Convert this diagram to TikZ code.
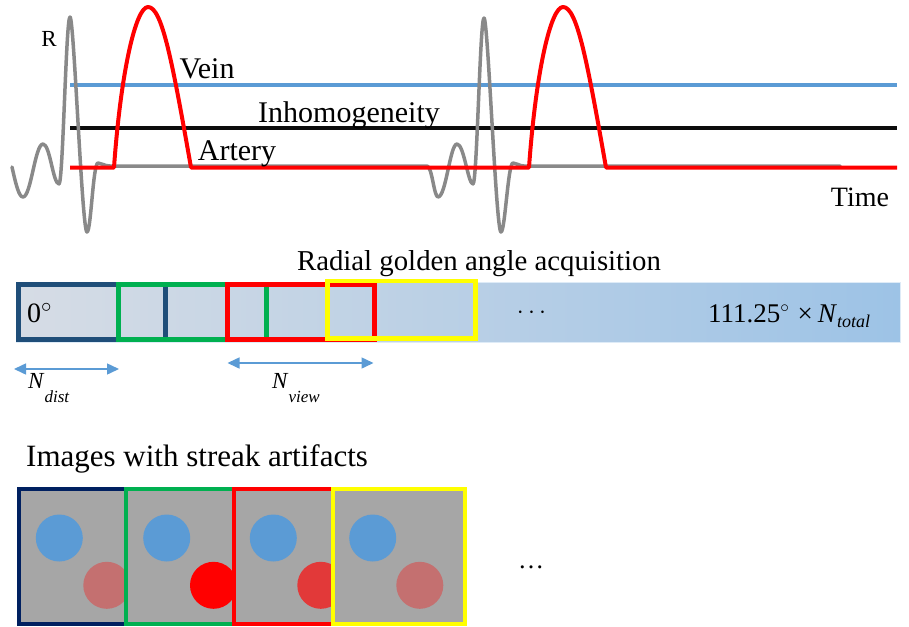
\documentclass[tikz,border=0pt]{standalone}
\usepackage{fontspec}
\setmainfont{Liberation Serif}
\usetikzlibrary{arrows.meta}
\definecolor{cvein}{RGB}{91,155,213}
\definecolor{cblack}{RGB}{13,13,13}
\definecolor{cecg}{RGB}{137,137,137}
\definecolor{cart}{RGB}{255,0,0}
\definecolor{cnavy}{RGB}{31,78,121}
\definecolor{cnavyd}{RGB}{0,32,96}
\definecolor{cgreen}{RGB}{0,176,80}
\definecolor{cyellow}{RGB}{255,255,0}
\definecolor{cbarl}{RGB}{214,220,229}
\definecolor{cbarr}{RGB}{157,195,230}
\definecolor{cbaredge}{RGB}{222,235,247}
\definecolor{cimg}{RGB}{166,166,166}
\definecolor{cdimred}{RGB}{196,112,112}
\definecolor{cmidred}{RGB}{226,57,57}
\newcommand\myfs[1]{\fontsize{#1}{#1}\selectfont}
\begin{document}
\begin{tikzpicture}[x=1pt,y=-1pt,
  lab/.style={inner sep=0pt,anchor=base},
  labw/.style={inner sep=0pt,anchor=base west},
  win/.style={line width=4.7pt},
  imgbox/.style={fill=cimg,line width=4pt},
  dimarrow/.style={draw=cvein,line width=1.5pt,{Triangle[length=12pt,width=11pt]}-{Triangle[length=12pt,width=11pt]}}
]
\useasboundingbox (0,0) rectangle (909,626);

% --- horizontal levels
\coordinate (veinL) at (70,85);  \coordinate (veinR) at (897,85);
\coordinate (inhL) at (70,128);  \coordinate (inhR) at (897,128);
\draw[cvein,line width=3.3pt] (veinL) -- (veinR);
\draw[cblack,line width=3.5pt] (inhL) -- (inhR);

% --- ECG trace
\draw[cecg,line width=3.5pt,line join=round,line cap=round]
  (12,167) .. controls (16,185) and (19,197) .. (23,197)
  .. controls (31,197) and (35,144) .. (43,144)
  .. controls (50,144) and (53,184) .. (59,184)
  .. controls (63,184) and (66,17) .. (70,17)
  .. controls (74,17) and (82,232) .. (87,232)
  .. controls (91,232) and (93,163) .. (98,163)
  .. controls (102,163) and (104,166) .. (110,166)
  -- (427,166)
  .. controls (432,166) and (434,197) .. (438,197)
  .. controls (446,197) and (450,144) .. (457,144)
  .. controls (464,144) and (468,184) .. (473,184)
  .. controls (477,184) and (480,18) .. (484,18)
  .. controls (488,18) and (496,232) .. (501,232)
  .. controls (505,232) and (508,163) .. (513,163)
  .. controls (517,163) and (519,166) .. (524,166)
  -- (840,166);

% --- artery curve
\draw[cart,line width=4pt,line join=round]
  (70,167.5) -- (114,167.5)
  .. controls (121,70) and (136,7) .. (148,7)
  .. controls (162,7) and (172,60) .. (191,167.5)
  -- (529,167.5)
  .. controls (536,70) and (551,7) .. (563,7)
  .. controls (577,7) and (587,60) .. (606,167.5)
  -- (897,167.5);

% --- top labels
\node[lab] (R) at (49,47) {\myfs{23}R};
\node[lab] (vein) at (207,78) {\myfs{30}Vein};
\node[lab] (inh) at (349,122) {\myfs{30}Inhomogeneity};
\node[lab] (art) at (237,160) {\myfs{30}Artery};
\node[lab] (time) at (860,206) {\myfs{28}Time};

% --- acquisition bar
\node[lab] (rad) at (479,270) {\myfs{28.8}Radial golden angle acquisition};
\shade[left color=cbarl,right color=cbarr,draw=cbaredge,line width=1pt] (16,282) rectangle (900,342);
\draw[cnavy,win] (18.5,284.3) rectangle (118.5,339.7);
\draw[cnavy,win] (165.5,284.3) -- (165.5,339.7);
\draw[cgreen,win] (118.5,284.3) rectangle (227.5,339.7);
\draw[cgreen,win] (266.5,284.3) -- (266.5,339.7);
\draw[cart,win] (227.5,284.3) rectangle (374.5,339.7);
\draw[cyellow,win] (327.5,281) rectangle (475.5,338.5);
\node[labw] (zero) at (27,322) {\myfs{28}0$^{\circ}$};
\node[lab] (dots1) at (531.5,318) {\myfs{25}$\cdots$};
\node[labw] (tot) at (708,322) {\myfs{27}111.25$^{\circ}$\hspace{8pt}×\hspace{5pt}\textit{N}\raisebox{-5pt}{\myfs{18}\textit{total}}};

% --- dimension arrows
\coordinate (nd1) at (14,369); \coordinate (nd2) at (119,369);
\coordinate (nv1) at (227.5,363); \coordinate (nv2) at (373.5,363);
\draw[dimarrow] (nd1) -- (nd2);
\draw[dimarrow] (nv1) -- (nv2);
\node[labw] (ndist) at (28,388) {\myfs{23}\textit{N}\raisebox{-14pt}{\myfs{17}\textit{dist}}};
\node[labw] (nview) at (272,388) {\myfs{23}\textit{N}\raisebox{-14pt}{\myfs{17}\textit{view}}};

% --- images
\node[labw] (imgt) at (26,466) {\myfs{31}Images with streak artifacts};
\draw[cnavyd,imgbox] (19.3,489) rectangle (126.4,623.7);
\fill[cvein] (59.3,538) circle[radius=23.5pt];
\fill[cdimred] (106.8,585.3) circle[radius=23.5pt];
\draw[cgreen,imgbox] (126,489) rectangle (233.5,623.7);
\fill[cvein] (166.7,538) circle[radius=23.5pt];
\fill[cart] (213.5,585.3) circle[radius=23.5pt];
\draw[cart,imgbox] (233.8,489) rectangle (340.8,623.7);
\fill[cvein] (273.3,538) circle[radius=23.5pt];
\fill[cmidred] (320.8,585.3) circle[radius=23.5pt];
\draw[cyellow,imgbox] (333,489) rectangle (464.7,623.7);
\fill[cvein] (372.7,538) circle[radius=23.5pt];
\fill[cdimred] (419.8,585.3) circle[radius=23.5pt];
\node[lab] (dots2) at (531,568) {\myfs{26}…};
\end{tikzpicture}
\end{document}
